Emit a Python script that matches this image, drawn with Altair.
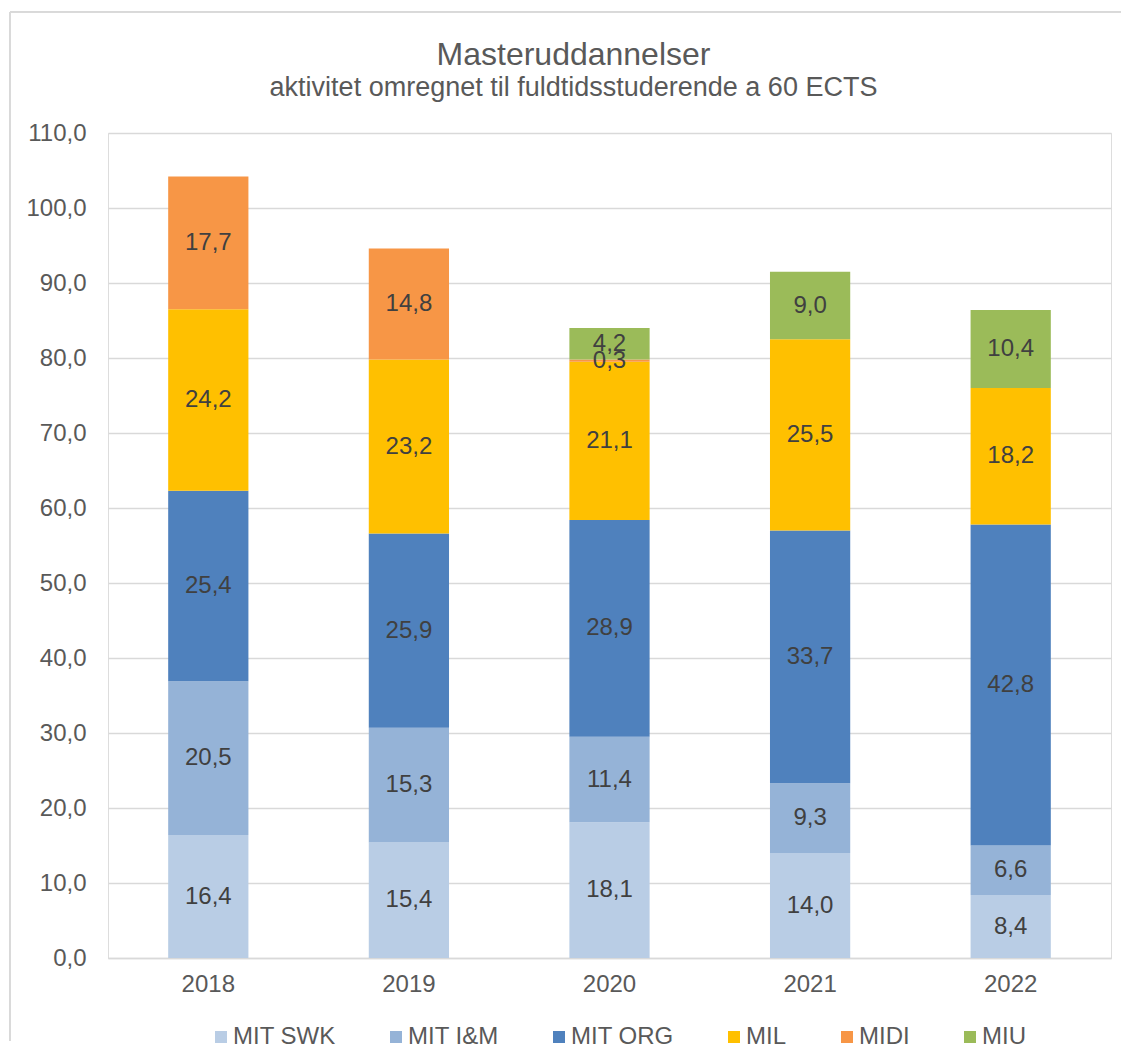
import altair as alt
import pandas as pd

years = ["2018", "2019", "2020", "2021", "2022"]
series = ["MIT SWK", "MIT I&M", "MIT ORG", "MIL", "MIDI", "MIU"]
colors = ["#B9CDE5", "#95B3D7", "#4F81BD", "#FFC000", "#F79646", "#9BBB59"]

mit_swk = [16.4, 15.4, 18.1, 14.0, 8.4]
mit_im = [20.5, 15.3, 11.4, 9.3, 6.6]
mit_org = [25.4, 25.9, 28.9, 33.7, 42.8]
mil = [24.2, 23.2, 21.1, 25.5, 18.2]
midi = [17.7, 14.8, 0.3, None, None]
miu = [None, None, 4.2, 9.0, 10.4]

y_ticks = list(range(0, 111, 10))

rows = []
for si, (name, vals) in enumerate(zip(series, [mit_swk, mit_im, mit_org, mil, midi, miu])):
    for yr, v in zip(years, vals):
        if v is not None:
            rows.append({"year": yr, "series": name, "order": si, "value": v})
df = pd.DataFrame(rows)

FONT = "Liberation Sans"
GREY = "#595959"
FS = 24

base = alt.Chart(df).transform_stack(
    stack="value", groupby=["year"], as_=["y0", "y1"], sort=[alt.SortField("order", "ascending")]
).transform_calculate(
    mid="(datum.y0 + datum.y1) / 2",
    label="replace(format(datum.value, '.1f'), '.', ',')",
)

x_enc = alt.X(
    "year:N",
    sort=years,
    title=None,
    scale=alt.Scale(paddingInner=0.6, paddingOuter=0.3),
    axis=alt.Axis(labelAngle=0, labelFont=FONT, labelFontSize=FS, labelColor=GREY,
                  tickSize=0, labelPadding=14, domainColor="#D9D9D9", domainWidth=1.5,
                  grid=False),
)

bars = base.mark_bar().encode(
    x=x_enc,
    y=alt.Y(
        "y0:Q",
        title=None,
        scale=alt.Scale(domain=[0, 110], nice=False),
        axis=alt.Axis(values=y_ticks, labelExpr="replace(format(datum.value, '.1f'), '.', ',')",
                      labelFont=FONT, labelFontSize=FS, labelColor=GREY, tickSize=0,
                      labelPadding=22, domain=False, gridColor="#D9D9D9", gridWidth=1.5),
    ),
    y2="y1:Q",
    color=alt.Color(
        "series:N",
        sort=series,
        scale=alt.Scale(domain=series, range=colors),
        legend=alt.Legend(orient="none", legendX=101, legendY=892, direction="horizontal",
                          title=None, symbolType="square", symbolSize=144, symbolStrokeWidth=0,
                          labelFont=FONT, labelFontSize=FS, labelColor=GREY,
                          columnPadding=48, labelOffset=0, padding=0),
    ),
    order=alt.Order("order:Q"),
)

labels = base.mark_text(font=FONT, fontSize=FS, color="#404040", baseline="middle").encode(
    x=alt.X("year:N", sort=years),
    y=alt.Y("mid:Q"),
    text="label:N",
)

border_left = alt.Chart(df).mark_rule(color="#D9D9D9", strokeWidth=1).encode(
    x=alt.value(-98), y=alt.value(-121), y2=alt.value(908)
)
border_top = alt.Chart(df).mark_rule(color="#D9D9D9", strokeWidth=1).encode(
    x=alt.value(-98), x2=alt.value(1013), y=alt.value(-121)
)

chart = alt.layer(border_left, border_top, bars, labels).properties(
    width=1003,
    height=825,
    padding={"left": 1, "top": 3, "right": 0, "bottom": 0},
    title=alt.TitleParams(
        text="Masteruddannelser",
        subtitle="aktivitet omregnet til fuldtidsstuderende a 60 ECTS",
        font=FONT, subtitleFont=FONT, fontSize=32, subtitleFontSize=27,
        fontWeight="normal", color=GREY, subtitleColor=GREY,
        anchor="middle", frame="bounds", offset=-90, subtitlePadding=3, dx=8,
    ),
).configure_view(stroke=None).configure(background="white")

chart.save("out.html", embed_options={"renderer": "svg", "actions": False})
